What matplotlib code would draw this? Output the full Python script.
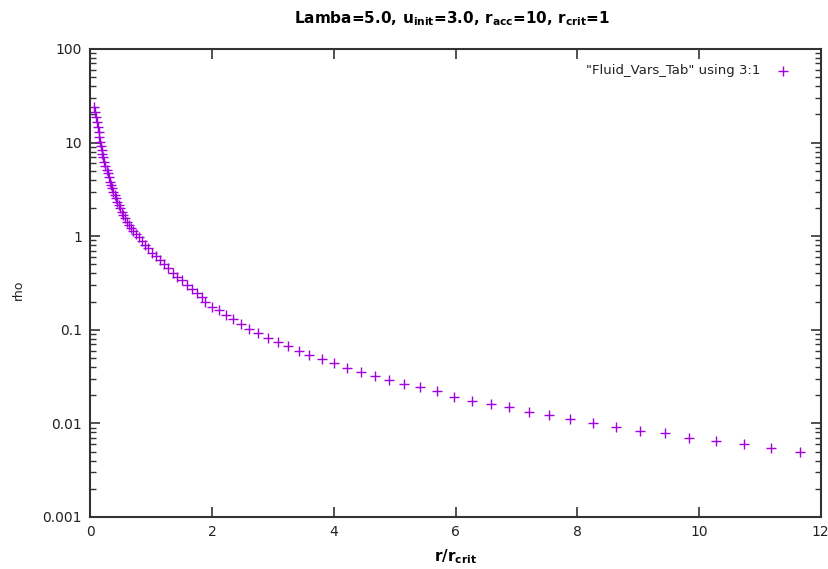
import matplotlib
matplotlib.use("Agg")
from matplotlib import pyplot as plt
from matplotlib.ticker import LogLocator, FixedLocator, NullFormatter

# r / r_crit values
r_vals = [0.063, 0.079, 0.090, 0.102, 0.118, 0.135, 0.145, 0.156, 0.168, 0.184,
          0.194, 0.211, 0.227, 0.243, 0.266, 0.283, 0.299, 0.321, 0.337, 0.359,
          0.375, 0.398, 0.419, 0.441, 0.464, 0.485, 0.513, 0.539, 0.572, 0.600,
          0.633, 0.666, 0.704, 0.748, 0.793, 0.842, 0.896, 0.951, 1.007, 1.072,
          1.143, 1.209, 1.280, 1.362, 1.428, 1.500, 1.582, 1.664, 1.747, 1.829,
          1.883, 1.993, 2.118, 2.229, 2.349, 2.480, 2.612, 2.760, 2.914, 3.084,
          3.253, 3.429, 3.599, 3.803, 4.010, 4.224, 4.444, 4.679, 4.914, 5.156,
          5.408, 5.688, 5.974, 6.275, 6.576, 6.883, 7.201, 7.541, 7.887, 8.260,
          8.638, 9.033, 9.438, 9.844, 10.276, 10.732, 11.181, 11.653]

# rho values
rho_vals = [24.2, 21.4, 18.9, 16.7, 14.8, 13.1, 11.6, 10.2, 9.2, 8.3,
            7.55, 6.96, 6.25, 5.62, 5.09, 4.70, 4.25, 3.82, 3.52, 3.25,
            2.99, 2.75, 2.54, 2.34, 2.15, 1.99, 1.83, 1.69, 1.55, 1.43,
            1.32, 1.23, 1.15, 1.06, 0.973, 0.881, 0.805, 0.742, 0.667, 0.614,
            0.557, 0.505, 0.454, 0.408, 0.369, 0.340, 0.301, 0.271, 0.245, 0.226,
            0.197, 0.177, 0.162, 0.143, 0.129, 0.116, 0.103, 0.0931, 0.0817, 0.0741,
            0.0671, 0.0598, 0.0538, 0.0491, 0.0442, 0.0394, 0.0354, 0.0321, 0.0291, 0.0264,
            0.0243, 0.0220, 0.0193, 0.0175, 0.0160, 0.01486, 0.01333, 0.01230, 0.01106, 0.01010,
            0.00916, 0.00830, 0.00784, 0.00703, 0.00644, 0.00603, 0.00546, 0.00499]

x_ticks = [0, 2, 4, 6, 8, 10, 12]
y_ticks = [0.001, 0.01, 0.1, 1, 10, 100]
y_tick_labels = ["0.001", "0.01", "0.1", "1", "10", "100"]

title = r"Lamba=5.0, u$_{\mathbf{init}}$=3.0, r$_{\mathbf{acc}}$=10, r$_{\mathbf{crit}}$=1"
legend_label = '"Fluid_Vars_Tab" using 3:1'
color = "#a000dc"

plt.rcParams['font.family'] = ['DejaVu Sans']
plt.rcParams['mathtext.default'] = 'bf'

fig = plt.figure(figsize=(8.29, 5.69), dpi=100)
ax = fig.add_axes([0.109, 0.0914, 0.881, 0.8225])

ax.plot(r_vals, rho_vals, linestyle='none', marker='+', markersize=7,
        markeredgewidth=1.0, color=color, label=legend_label)

ax.set_yscale('log')
ax.set_xlim(0, 12)
ax.set_ylim(0.001, 100)

# Ticks like gnuplot: inside, mirrored on all sides
ax.xaxis.set_major_locator(FixedLocator(x_ticks))
ax.set_xticklabels([str(t) for t in x_ticks])
ax.yaxis.set_major_locator(FixedLocator(y_ticks))
ax.set_yticklabels(y_tick_labels)
ax.yaxis.set_minor_locator(LogLocator(base=10, subs=range(2, 10)))
ax.yaxis.set_minor_formatter(NullFormatter())
ax.tick_params(which='both', direction='in', top=True, right=True, colors='#333333',
               labelcolor='#222222', labelsize=10)
ax.tick_params(which='major', length=7, width=1.2, pad=6)
ax.tick_params(which='minor', length=4, width=1.0)
for sp in ax.spines.values():
    sp.set_linewidth(1.5)
    sp.set_color('#333333')

fig.text(0.545, 0.968, title, ha='center', va='center', fontsize=11, fontweight='bold')
ax.set_xlabel(r"r/r$_{\mathbf{crit}}$", fontsize=11, fontweight='bold', labelpad=6)
fig.text(18 / 829, 1 - 290 / 569, "rho", rotation=90, ha='center', va='center',
         fontsize=9, color='#222222')

# Legend drawn like gnuplot's key: text then a sample marker
ax.text(0.918, 0.953, legend_label, transform=ax.transAxes, ha='right', va='center',
        fontsize=9.5, color='#222222')
ax.plot([0.948], [0.953], transform=ax.transAxes, linestyle='none', marker='+',
        markersize=7, markeredgewidth=1.0, color=color)

fig.savefig("out.png", dpi=100)
